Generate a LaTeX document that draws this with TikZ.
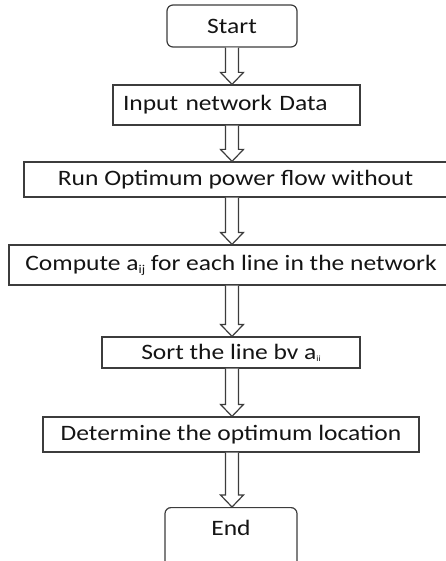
\documentclass[tikz,border=0pt]{standalone}
\usepackage{fontspec}
\setmainfont[FakeStretch=1.16]{Carlito}
\usetikzlibrary{calc}
\definecolor{linegray}{HTML}{3C3C3C}
\definecolor{textblack}{HTML}{141414}
% hollow block arrow between two steps, drawn on a common vertical axis
\newcommand{\flowarrow}[2]{%
  \draw[flowline] ($(axis |- #1.south)+(-6.5,0)$) -- ($(axis |- #2.north)+(-6.5,-12)$)
    -- ++(-5,0) -- (axis |- #2.north) -- ($(axis |- #2.north)+(11.5,-12)$)
    -- ++(-5,0) -- ($(axis |- #1.south)+(6.5,0)$);}
\begin{document}
\begin{tikzpicture}[x=1pt,y=-1pt,
  box/.style={draw=linegray, line width=1.2pt, rectangle, inner sep=0pt,
    font=\fontsize{22}{25}\selectfont, text=textblack},
  terminal/.style={box, rounded corners=6pt},
  flowline/.style={draw=linegray, line width=1.2pt, fill=white}]
\useasboundingbox (0,0) rectangle (446,561);
\clip (0,0) rectangle (446,561);
\coordinate (axis) at (232,0);

\node[terminal, minimum width=130, minimum height=42] (start) at (232,26) {Start};
\node[box, minimum width=247, minimum height=40, text width=227, align=left] (input) at (236.5,105) {Input network Data};
\node[box, minimum width=423, minimum height=35] (opf) at (235.5,179.5) {Run Optimum power flow without};
\node[box, minimum width=438, minimum height=40] (compute) at (228,265)
  {\hspace*{6pt}Compute a\raisebox{-3pt}{\fontsize{12}{12}\selectfont ij} for each line in the network};
\node[box, minimum width=258, minimum height=31] (sort) at (231,352.5)
  {Sort the line bv a\raisebox{-2pt}{\fontsize{8}{8}\selectfont ii}};
\node[box, minimum width=376, minimum height=35] (locate) at (231,434.5) {Determine the optimum location};
\node[terminal, anchor=north, minimum width=132, text height=28, text depth=50] (end) at (231,507) {End};

\flowarrow{start}{input}
\flowarrow{input}{opf}
\flowarrow{opf}{compute}
\flowarrow{compute}{sort}
\flowarrow{sort}{locate}
\flowarrow{locate}{end}
\end{tikzpicture}
\end{document}
